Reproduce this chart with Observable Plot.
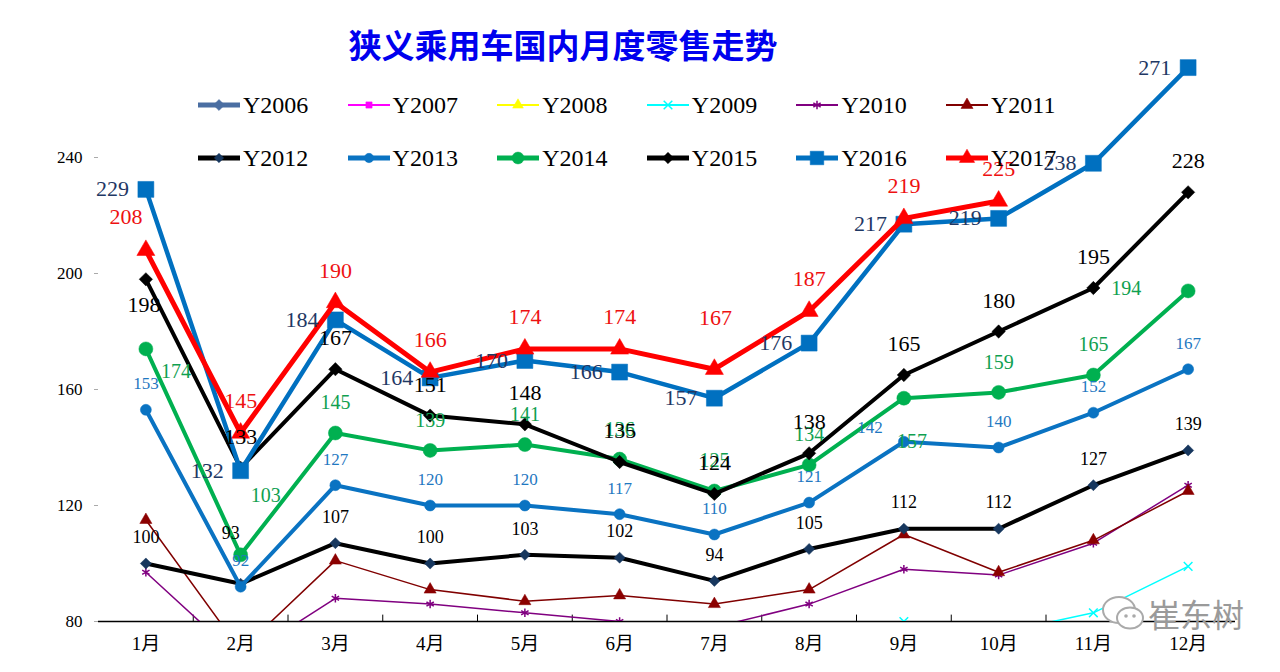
<!DOCTYPE html>
<html><head><meta charset="utf-8">
<script src="https://cdn.jsdelivr.net/npm/d3@7"></script>
<script src="https://cdn.jsdelivr.net/npm/@observablehq/plot@0.6"></script>
<style>
body{margin:0;background:#fff;}
#wrap{position:relative;width:1280px;height:672px;overflow:hidden;font-family:"Liberation Serif","Noto Sans CJK SC",serif;}
#title{position:absolute;left:0;width:1126px;text-align:center;top:20px;font-weight:bold;font-size:33px;font-family:"Noto Sans CJK SC",sans-serif;color:#0000EE;z-index:2;}
.leg{position:absolute;display:flex;align-items:center;height:30px;font-size:24px;color:#000;z-index:2;white-space:nowrap;}
.leg svg{display:block;margin-right:2px;}
#wm{position:absolute;left:1100px;top:590px;display:flex;align-items:center;z-index:2;font-family:"Noto Sans CJK SC",sans-serif;font-size:32px;color:#9a9a9a;}
#chart{position:absolute;left:0;top:0;}
</style>
</head><body>
<div id="wrap">
  <div id="title">狭义乘用车国内月度零售走势</div>
  <div id="chart"></div>
  <div id="legend"></div>
  <div id="wm"><svg width="48" height="40" viewBox="0 0 48 40"><ellipse cx="19" cy="17" rx="16" ry="13" fill="#fff" stroke="#aaa" stroke-width="2"/><ellipse cx="30" cy="25" rx="13" ry="10.5" fill="#fff" stroke="#aaa" stroke-width="2"/><circle cx="26" cy="23" r="1.8" fill="#aaa"/><circle cx="34" cy="23" r="1.8" fill="#aaa"/></svg><span>崔东树</span></div>
</div>
<script>
const months = ["1月","2月","3月","4月","5月","6月","7月","8月","9月","10月","11月","12月"];
const seriesNames = ["Y2006","Y2007","Y2008","Y2009","Y2010","Y2011","Y2012","Y2013","Y2014","Y2015","Y2016","Y2017"];
const Y2006 = [null,null,null,null,null,null,null,null,null,null,null,null];
const Y2007 = [null,null,null,null,null,null,null,null,null,null,null,null];
const Y2008 = [null,null,null,null,null,null,null,null,null,null,null,null];
const Y2009 = [null,null,null,null,null,null,null,null,80,76,83,99];
const Y2010 = [97,67,88,86,83,80,78,86,98,96,107,127];
const Y2011 = [115,70,101,91,87,89,86,91,110,97,108,125];
const Y2012 = [100,93,107,100,103,102,94,105,112,112,127,139];
const Y2013 = [153,92,127,120,120,117,110,121,142,140,152,167];
const Y2014 = [174,103,145,139,141,136,125,134,157,159,165,194];
const Y2015 = [198,133,167,151,148,135,124,138,165,180,195,228];
const Y2016 = [229,132,184,164,170,166,157,176,217,219,238,271];
const Y2017 = [208,145,190,166,174,174,167,187,219,225,null,null];
const yTicks = [80,120,160,200,240];
const labelledSeries = ["Y2012","Y2013","Y2014","Y2015","Y2016","Y2017"];

const values = {Y2006,Y2007,Y2008,Y2009,Y2010,Y2011,Y2012,Y2013,Y2014,Y2015,Y2016,Y2017};

const styles = {
  Y2006:{color:"#4A6EA2", width:5, symbol:"diamond2", r:5, fill:"#4A6EA2"},
  Y2007:{color:"#FF00FF", width:1.5, symbol:"square", r:3.5, fill:"#FF00FF"},
  Y2008:{color:"#FFFF00", width:1.5, symbol:"triangle", r:4, fill:"#FFFF00"},
  Y2009:{color:"#00FFFF", width:1.5, symbol:"times", r:4, fill:"none"},
  Y2010:{color:"#800080", width:1.5, symbol:"asterisk", r:4, fill:"none"},
  Y2011:{color:"#800000", width:1.5, symbol:"triangle", r:4.5, fill:"#8B0000"},
  Y2012:{color:"#000000", width:4, symbol:"diamond2", r:5, fill:"#17375E"},
  Y2013:{color:"#0A73C2", width:4, symbol:"circle", r:5.5, fill:"#0A73C2"},
  Y2014:{color:"#00B050", width:4, symbol:"circle", r:7, fill:"#00B050"},
  Y2015:{color:"#000000", width:4, symbol:"diamond2", r:6, fill:"#000000"},
  Y2016:{color:"#0070C0", width:4.5, symbol:"square", r:9, fill:"#0070C0"},
  Y2017:{color:"#FF0000", width:5, symbol:"triangle", r:6.7, fill:"#FF0000"}
};
const labelStyles = {
  Y2012:{fill:"#000000", size:18, dx:0, dy:-26, anchor:"middle"},
  Y2013:{fill:"#1F78C1", size:17, dx:0, dy:-26, anchor:"middle"},
  Y2014:{fill:"#10A050", size:20, dx:0, dy:-30, anchor:"middle"},
  Y2015:{fill:"#000000", size:22, dx:0, dy:-31, anchor:"middle"},
  Y2016:{fill:"#1F3864", size:22, dx:-17, dy:0, anchor:"end"},
  Y2017:{fill:"#EE1111", size:22, dx:0, dy:-32, anchor:"middle"}
};
const labelNudge = {
  "Y2015|1月":[-2,26], "Y2017|1月":[-20,-33], "Y2017|7月":[1,-51],
  "Y2014|1月":[30,23], "Y2014|2月":[25,-59], "Y2014|9月":[8,43], "Y2014|12月":[-62,-2],
  "Y2013|9月":[-34,-14], "Y2012|2月":[-10,-51]
};

const rows = [];
for (const s of seriesNames) values[s].forEach((v,i)=>rows.push({series:s, i:i+1, month:months[i], v}));

const marks = [];
marks.push(Plot.ruleY([80], {stroke:"#000", strokeWidth:1.5}));
marks.push(Plot.ruleX(d3.range(1.5, 12.5, 1), {y1:80, y2:82.2, stroke:"#000", strokeWidth:1}));
for (const s of seriesNames) {
  const st = styles[s];
  const data = rows.filter(d=>d.series===s);
  marks.push(Plot.line(data, {x:"i", y:"v", stroke:st.color, strokeWidth:st.width, strokeLinejoin:"round", clip:true}));
  const stroked = st.fill === "none";
  marks.push(Plot.dot(data.filter(d=>d.v!=null), {x:"i", y:"v", symbol:st.symbol, r:st.r,
    fill: stroked ? "none" : st.fill, stroke: stroked ? st.color : st.fill, strokeWidth: stroked ? 1.5 : 0.5, clip:true}));
}
for (const s of labelledSeries) {
  const ls = labelStyles[s];
  const data = rows.filter(d=>d.series===s && d.v!=null);
  const base = data.filter(d=>!labelNudge[s+"|"+d.month]);
  marks.push(Plot.text(base, {x:"i", y:"v", text:d=>String(d.v), fill:ls.fill, fontSize:ls.size, dx:ls.dx, dy:ls.dy, textAnchor:ls.anchor}));
  for (const d of data.filter(d=>labelNudge[s+"|"+d.month])) {
    const [dx,dy] = labelNudge[s+"|"+d.month];
    marks.push(Plot.text([d], {x:"i", y:"v", text:d=>String(d.v), fill:ls.fill, fontSize:ls.size, dx, dy, textAnchor:"middle"}));
  }
}
marks.push(Plot.axisY({ticks:yTicks, tickSize:4, tickPadding:12, stroke:"#aaa", fill:"#000", fontSize:17, label:null}));
marks.push(Plot.axisX({ticks:d3.range(1,13), tickFormat:i=>months[i-1], tickSize:0, tickPadding:15, fontSize:19, label:null}));

const chart = Plot.plot({
  width:1280, height:672,
  marginLeft:98, marginRight:45, marginTop:41, marginBottom:51,
  x:{domain:[0.5,12.5], axis:null},
  y:{domain:[80,280], axis:null},
  style:{fontFamily:'"Liberation Serif","Noto Sans CJK SC",serif', background:"#fff", overflow:"visible"},
  marks
});
document.getElementById("chart").appendChild(chart);

// legend
const symMap = {diamond2:d3.symbolDiamond2, square:d3.symbolSquare, triangle:d3.symbolTriangle, circle:d3.symbolCircle, times:d3.symbolTimes, asterisk:d3.symbolAsterisk};
const leg = document.getElementById("legend");
seriesNames.forEach((s,k)=>{
  const st = styles[s];
  const row = Math.floor(k/6), col = k%6;
  const x = 197 + col*149.6, yc = row===0 ? 105 : 158;
  const div = document.createElement("div");
  div.className = "leg";
  div.style.left = x + "px";
  div.style.top = (yc-15) + "px";
  const lw = row===0 && s!=="Y2006" ? 2 : 5;
  const sz = Math.PI*Math.pow(st.r*(row===0?1:0.85),2);
  const path = d3.symbol(symMap[st.symbol], sz)();
  const stroked = st.fill === "none";
  div.innerHTML = `<svg width="44" height="30"><line x1="1" x2="43" y1="15" y2="15" stroke="${st.color}" stroke-width="${lw}"/>` +
    `<path transform="translate(22,15)" d="${path}" fill="${stroked?"none":st.fill}" stroke="${stroked?st.color:st.fill}" stroke-width="${stroked?1.5:0.5}"/></svg><span>${s}</span>`;
  leg.appendChild(div);
});
</script>
</body></html>
